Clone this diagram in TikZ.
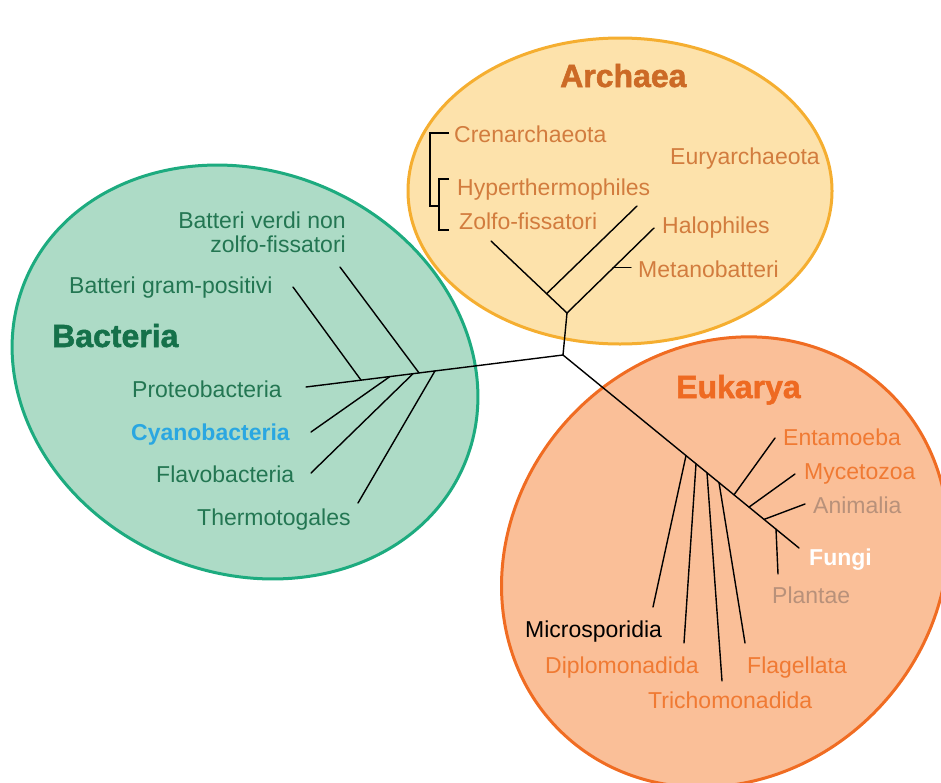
\documentclass[tikz,border=0pt]{standalone}
\usepackage{fontspec}
\setmainfont{Liberation Sans}
\newfontfamily\heavyfont[FakeBold=1.6]{Liberation Sans Bold}
\definecolor{archfill}{HTML}{FDE2AB}
\definecolor{archline}{HTML}{F5AE30}
\definecolor{archtitle}{HTML}{CC6A26}
\definecolor{archtext}{HTML}{D27C3E}
\definecolor{bactfill}{HTML}{ADDBC6}
\definecolor{bactline}{HTML}{1DAB7F}
\definecolor{bacttitle}{HTML}{15714A}
\definecolor{bacttext}{HTML}{237652}
\definecolor{cyanob}{HTML}{2AA7E1}
\definecolor{eukfill}{HTML}{FABF98}
\definecolor{eukline}{HTML}{F06C22}
\definecolor{euktitle}{HTML}{EE6A22}
\definecolor{euktext}{HTML}{F07A33}
\definecolor{eukgray}{HTML}{B8917A}
\begin{document}
\begin{tikzpicture}[x=1pt,y=1pt,
  blob/.style={line width=3pt},
  branch/.style={line width=1.4pt, black, line cap=round},
  lbl/.style={inner sep=0pt, font=\fontsize{23}{27}\selectfont},
  bl/.style={lbl, anchor=base west},
  br/.style={lbl, anchor=base east},
  title/.style={inner sep=0pt, anchor=base west, font=\fontsize{32}{36}\heavyfont}]
\useasboundingbox (0,0) rectangle (941,-782);
\clip (0,0) rectangle (941,-782);
% domains
\draw[blob, fill=archfill, draw=archline] (620,-191) ellipse [x radius=212, y radius=153];
\draw[blob, fill=bactfill, draw=bactline, rotate around={-22.7:(245,-372)}] (245,-372) ellipse [x radius=238, y radius=201];
\draw[blob, fill=eukfill, draw=eukline, rotate around={47:(725,-562)}] (725,-562) ellipse [x radius=236, y radius=212];
% tree coordinates
\coordinate (C) at (563,-355);
\coordinate (A) at (567,-313);
\coordinate (Azl) at (491,-241);
\coordinate (Ah) at (547,-293.3);
\coordinate (Ahy) at (637,-206);
\coordinate (Aha) at (654,-228);
\coordinate (Am) at (613,-267.6);
\coordinate (Ame) at (631,-267.6);
% bacteria
\coordinate (Bt) at (435,-370.9);
\coordinate (Bv) at (419,-372.9);
\coordinate (Bf) at (413,-373.7);
\coordinate (Bc) at (390,-376.5);
\coordinate (Bg) at (361,-380.1);
\coordinate (Bp) at (306,-387);
\coordinate (Bge) at (293,-287);
\coordinate (Bve) at (340,-267);
\coordinate (Bce) at (311,-432);
\coordinate (Bfe) at (311,-473);
\coordinate (Bte) at (358,-503);
% eukarya
\coordinate (Efu) at (799,-548);
\coordinate (Emi) at (686,-455.6);
\coordinate (Edi) at (696,-463.8);
\coordinate (Etr) at (707,-472.8);
\coordinate (Efl) at (719,-482.6);
\coordinate (Een) at (734,-494.8);
\coordinate (Emy) at (749,-507.1);
\coordinate (Ean) at (764,-519.4);
\coordinate (Epl) at (776,-529.2);
\coordinate (Emie) at (653,-607);
\coordinate (Edie) at (684,-643);
\coordinate (Etre) at (722,-681);
\coordinate (Efle) at (745,-643);
\coordinate (Eene) at (775,-438);
\coordinate (Emye) at (795,-474);
\coordinate (Eane) at (805,-504);
\coordinate (Eple) at (778,-574);
% bracket coordinates
\coordinate (K1) at (449,-133);
\coordinate (K2) at (430,-133);
\coordinate (K3) at (430,-206);
\coordinate (K4) at (439,-206);
\coordinate (K5) at (449,-179);
\coordinate (K6) at (439,-179);
\coordinate (K7) at (439,-230);
\coordinate (K8) at (449,-230);
% branches
\draw[branch] (C) -- (A);
\draw[branch] (A) -- (Azl);
\draw[branch] (Ah) -- (Ahy);
\draw[branch] (A) -- (Aha);
\draw[branch] (Am) -- (Ame);
\draw[branch, line cap=butt] (K1) -- (K2) -- (K3) -- (K4);
\draw[branch, line cap=butt] (K5) -- (K6) -- (K7) -- (K8);
\draw[branch] (C) -- (Bp);
\draw[branch] (Bg) -- (Bge);
\draw[branch] (Bv) -- (Bve);
\draw[branch] (Bc) -- (Bce);
\draw[branch] (Bf) -- (Bfe);
\draw[branch] (Bt) -- (Bte);
\draw[branch] (C) -- (Efu);
\draw[branch] (Emi) -- (Emie);
\draw[branch] (Edi) -- (Edie);
\draw[branch] (Etr) -- (Etre);
\draw[branch] (Efl) -- (Efle);
\draw[branch] (Een) -- (Eene);
\draw[branch] (Emy) -- (Emye);
\draw[branch] (Ean) -- (Eane);
\draw[branch] (Epl) -- (Eple);
% titles
\node[title, text=archtitle] (tarch) at (560,-87) {Archaea};
\node[title, text=bacttitle] (tbact) at (52,-347) {Bacteria};
\node[title, text=euktitle] (teuk) at (676,-398) {Eukarya};
% archaea labels
\node[bl, text=archtext] (cren) at (454,-142) {Crenarchaeota};
\node[bl, text=archtext] (eury) at (670,-164) {Euryarchaeota};
\node[bl, text=archtext] (hyp) at (457,-195) {Hyperthermophiles};
\node[bl, text=archtext] (zolf) at (459,-229) {Zolfo-fissatori};
\node[bl, text=archtext] (halo) at (662,-233) {Halophiles};
\node[bl, text=archtext] (meta) at (638,-277) {Metanobatteri};
% bacteria labels
\node[br, text=bacttext] (verdi1) at (346,-228) {Batteri verdi non};
\node[br, text=bacttext] (verdi2) at (346,-252) {zolfo-fissatori};
\node[bl, text=bacttext] (gram) at (69,-293) {Batteri gram-positivi};
\node[bl, text=bacttext] (prot) at (132,-397) {Proteobacteria};
\node[bl, text=cyanob, font=\fontsize{23}{27}\selectfont\bfseries] (cyan) at (131,-440) {Cyanobacteria};
\node[bl, text=bacttext] (flav) at (156,-482) {Flavobacteria};
\node[bl, text=bacttext] (therm) at (197,-525) {Thermotogales};
% eukarya labels
\node[bl, text=euktext] (enta) at (783,-445) {Entamoeba};
\node[bl, text=euktext] (myce) at (804,-479) {Mycetozoa};
\node[bl, text=eukgray] (anim) at (813,-513) {Animalia};
\node[bl, text=white, font=\fontsize{23}{27}\selectfont\bfseries] (fung) at (809,-565) {Fungi};
\node[bl, text=eukgray] (plan) at (772,-603) {Plantae};
\node[bl, text=black] (micr) at (525,-637) {Microsporidia};
\node[bl, text=euktext] (dipl) at (545,-673) {Diplomonadida};
\node[bl, text=euktext] (flag) at (747,-673) {Flagellata};
\node[bl, text=euktext] (tric) at (648,-708) {Trichomonadida};
\end{tikzpicture}
\end{document}
